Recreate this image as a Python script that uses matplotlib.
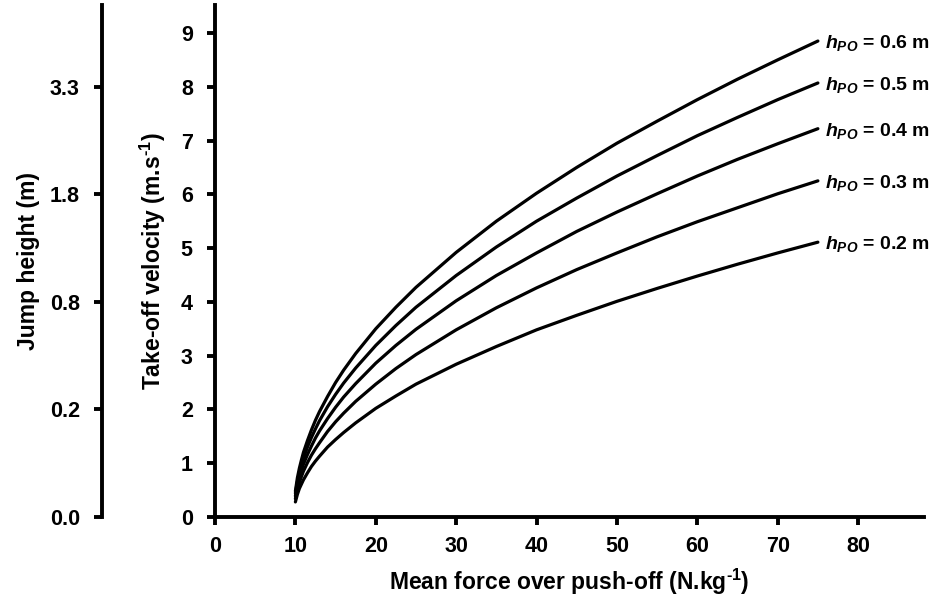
import matplotlib
matplotlib.use("Agg")
import matplotlib.pyplot as plt

plt.rcParams['font.family'] = ['Liberation Sans', 'DejaVu Sans']
plt.rcParams['font.weight'] = 'bold'
plt.rcParams['mathtext.fontset'] = 'custom'
plt.rcParams['mathtext.rm'] = 'Liberation Sans:bold'
plt.rcParams['mathtext.it'] = 'Liberation Sans:italic:bold'
plt.rcParams['mathtext.bf'] = 'Liberation Sans:bold'

# Mean force over push-off (N/kg)
force = [10, 10.25, 10.5, 10.75, 11, 11.5, 12, 12.5, 13, 14, 15, 16, 17.5, 20, 22.5,
         25, 30, 35, 40, 45, 50, 55, 60, 65, 70, 75]

# Take-off velocity (m/s) for each push-off distance
v_02 = [0.28, 0.42, 0.53, 0.61, 0.69, 0.82, 0.94, 1.04, 1.13, 1.30, 1.44, 1.57, 1.75, 2.02, 2.25,
        2.47, 2.84, 3.17, 3.48, 3.75, 4.01, 4.25, 4.48, 4.70, 4.91, 5.11]
v_03 = [0.34, 0.51, 0.64, 0.75, 0.85, 1.01, 1.15, 1.27, 1.38, 1.59, 1.77, 1.93, 2.15, 2.47, 2.76,
        3.02, 3.48, 3.89, 4.26, 4.60, 4.91, 5.21, 5.49, 5.75, 6.01, 6.25]
v_04 = [0.39, 0.59, 0.74, 0.87, 0.98, 1.16, 1.32, 1.47, 1.60, 1.83, 2.04, 2.23, 2.48, 2.86, 3.19,
        3.49, 4.02, 4.49, 4.91, 5.31, 5.67, 6.01, 6.34, 6.65, 6.94, 7.22]
v_05 = [0.44, 0.66, 0.83, 0.97, 1.09, 1.30, 1.48, 1.64, 1.79, 2.05, 2.28, 2.49, 2.77, 3.19, 3.56,
        3.90, 4.49, 5.02, 5.50, 5.93, 6.34, 6.72, 7.09, 7.43, 7.76, 8.07]
v_06 = [0.48, 0.73, 0.91, 1.06, 1.20, 1.42, 1.62, 1.80, 1.96, 2.24, 2.50, 2.73, 3.04, 3.50, 3.90,
        4.27, 4.92, 5.50, 6.02, 6.50, 6.95, 7.36, 7.76, 8.14, 8.50, 8.85]

series = [v_02, v_03, v_04, v_05, v_06]
labels = ['0.2', '0.3', '0.4', '0.5', '0.6']

x_ticks = [0, 10, 20, 30, 40, 50, 60, 70, 80]
y_ticks = [0, 1, 2, 3, 4, 5, 6, 7, 8, 9]
jump_tick_pos = [0, 2, 4, 6, 8]
jump_tick_labels = ['0.0', '0.2', '0.8', '1.8', '3.3']

W, H = 937, 598
fig = plt.figure(figsize=(W / 100, H / 100), dpi=100)
ax = fig.add_axes([215 / W, 1 - 517 / H, (924 - 215) / W, (517 - 5) / H])

for v, lab in zip(series, labels):
    ax.plot(force, v, color='black', lw=2.3, solid_capstyle='round', solid_joinstyle='round')
    ax.text(force[-1] + 0.9, v[-1] - 0.04, r'$\mathit{h}_{\mathit{PO}}$' + ' = ' + lab + ' m',
            fontsize=14, fontweight='bold', va='center', ha='left')

ax.set_xlim(0, 88.2)
ax.set_ylim(0, 9.52)
ax.set_xticks(x_ticks)
ax.set_yticks(y_ticks)
for s in ['top', 'right']:
    ax.spines[s].set_visible(False)
for s in ['left', 'bottom']:
    ax.spines[s].set_linewidth(2.8)
ax.tick_params(axis='both', direction='out', length=6, width=2.8, labelsize=15.5)
ax.tick_params(axis='y', pad=10)
ax.tick_params(axis='x', pad=8)
for t in ax.get_xticklabels() + ax.get_yticklabels():
    t.set_fontweight('bold')
ax.set_xlabel(r'Mean force over push-off (N.kg$^{\text{-1}}$)', fontsize=16.5, fontweight='bold', labelpad=7)
ax.set_ylabel(r'Take-off velocity (m.s$^{\text{-1}}$)', fontsize=16.5, fontweight='bold', labelpad=9)

# Secondary jump-height axis
ax2 = fig.add_axes([102 / W, 1 - 517 / H, 0.001, (517 - 5) / H])
ax2.set_ylim(0, 9.52)
ax2.set_xticks([])
ax2.patch.set_visible(False)
for s in ['top', 'right', 'bottom']:
    ax2.spines[s].set_visible(False)
ax2.spines['left'].set_linewidth(2.8)
ax2.set_yticks(jump_tick_pos)
ax2.set_yticklabels(jump_tick_labels)
ax2.tick_params(axis='y', direction='out', length=6, width=2.8, labelsize=15.5, pad=10)
for t in ax2.get_yticklabels():
    t.set_fontweight('bold')
ax2.set_ylabel('Jump height (m)', fontsize=16.5, fontweight='bold', labelpad=7)

fig.savefig('out.png', dpi=100)
